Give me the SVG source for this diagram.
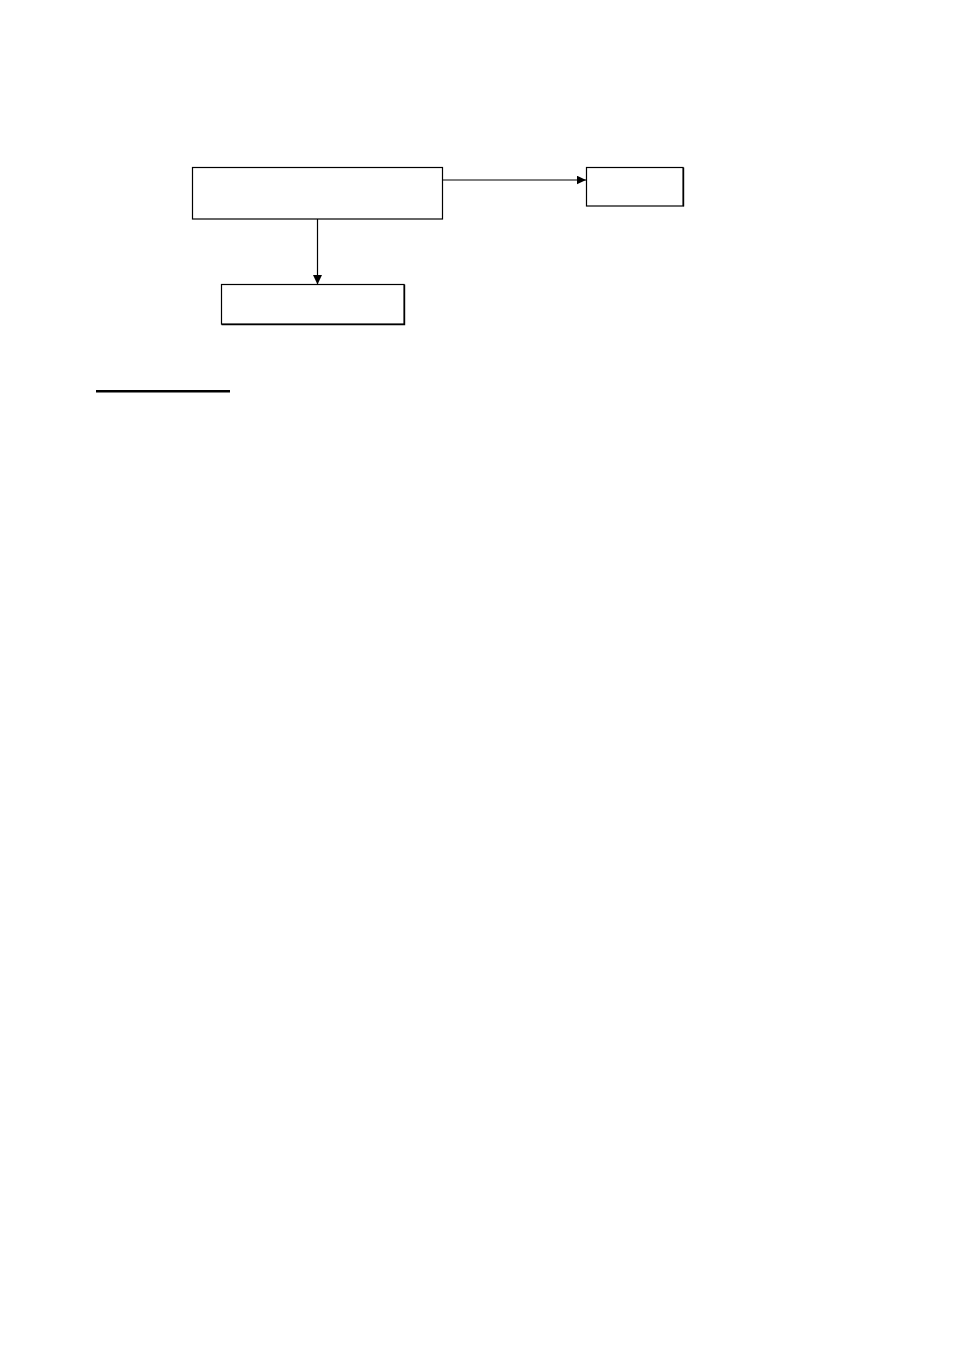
<svg xmlns="http://www.w3.org/2000/svg" width="954" height="1351" viewBox="0 0 954 1351">
<style>
.box{fill:#fff;stroke:#000;stroke-width:1.2}
.shadow{fill:none;stroke:#000;stroke-width:1.2}
.conn{fill:none;stroke:#000;stroke-width:1.2}
</style>
<defs>
<marker id="arr" viewBox="0 0 10 10" refX="10" refY="5" markerWidth="9.5" markerHeight="9" markerUnits="userSpaceOnUse" orient="auto" preserveAspectRatio="none">
<path d="M0,0 L10,5 L0,10 Z" fill="#000"/>
</marker>
</defs>
<rect width="954" height="1351" fill="#fff"/>
<g id="connectors">
<line class="conn" x1="443" y1="180" x2="586" y2="180" marker-end="url(#arr)"/>
<line class="conn" x1="317.5" y1="219" x2="317.5" y2="284.5" marker-end="url(#arr)"/>
</g>
<g id="node-main">
<rect class="box" x="192.5" y="167.5" width="250" height="51.5"/>
</g>
<g id="node-right">
<rect class="box" x="586.5" y="167.5" width="96.5" height="38.5"/>
<path class="shadow" d="M683.6,167.5 V206.6"/>
</g>
<g id="node-bottom">
<rect class="box" x="221.5" y="284.5" width="182.5" height="39.5"/>
<path class="shadow" d="M404.6,284.5 V324.6 H221.5"/>
</g>
<g id="underline">
<line x1="96" y1="391.3" x2="230" y2="391.3" stroke="#000" stroke-width="2.6"/>
</g>
</svg>
